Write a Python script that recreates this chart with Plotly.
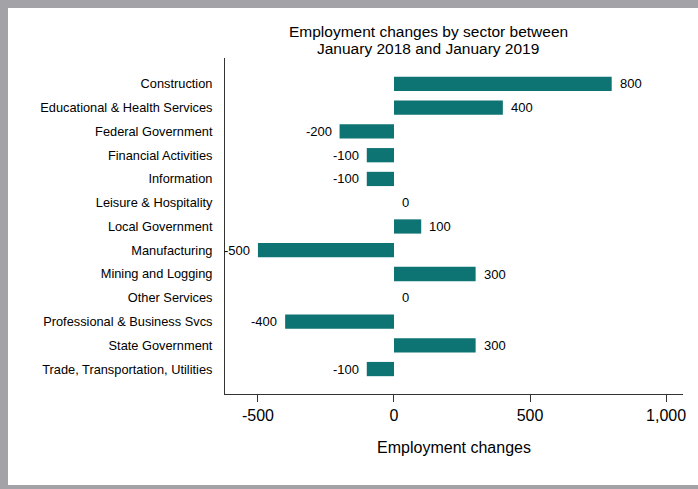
import plotly.graph_objects as go

sectors = [
    "Construction",
    "Educational & Health Services",
    "Federal Government",
    "Financial Activities",
    "Information",
    "Leisure & Hospitality",
    "Local Government",
    "Manufacturing",
    "Mining and Logging",
    "Other Services",
    "Professional & Business Svcs",
    "State Government",
    "Trade, Transportation, Utilities",
]
changes = [800, 400, -200, -100, -100, 0, 100, -500, 300, 0, -400, 300, -100]
x_tick_vals = [-500, 0, 500, 1000]
x_tick_text = ["-500", "0", "500", "1,000"]
title_lines = ["Employment changes by sector between", "January 2018 and January 2019"]

W, H = 698, 489
ML, MR, MT, MB = 225, 15, 58, 95
PW, PH = W - ML - MR, H - MT - MB
FONT = "Liberation Sans, Arial, Helvetica, sans-serif"
BAR = "#0e7373"
BORDER = "#a3a3a7"

fig = go.Figure()
fig.add_trace(go.Bar(
    x=changes, y=sectors, orientation="h",
    marker=dict(color=BAR, line=dict(width=0)),
    width=0.6, hoverinfo="skip",
))

def px_x(p):
    return (p - ML) / PW

def px_y(p):
    return (H - MB - p) / PH

shapes = [
    dict(type="rect", xref="paper", yref="paper", x0=px_x(0), x1=px_x(8), y0=px_y(H), y1=px_y(0),
         fillcolor=BORDER, line=dict(width=0), layer="above"),
    dict(type="rect", xref="paper", yref="paper", x0=px_x(0), x1=px_x(W), y0=px_y(8), y1=px_y(0),
         fillcolor=BORDER, line=dict(width=0), layer="above"),
    dict(type="rect", xref="paper", yref="paper", x0=px_x(0), x1=px_x(W), y0=px_y(H), y1=px_y(485),
         fillcolor=BORDER, line=dict(width=0), layer="above"),
]

annotations = [
    dict(text=title_lines[0], xref="paper", yref="paper", x=px_x(428), y=px_y(31),
         xanchor="center", yanchor="middle", showarrow=False,
         font=dict(size=15.5, family=FONT, color="black")),
    dict(text=title_lines[1], xref="paper", yref="paper", x=px_x(428), y=px_y(48),
         xanchor="center", yanchor="middle", showarrow=False,
         font=dict(size=15.5, family=FONT, color="black")),
]
for s, v in zip(sectors, changes):
    annotations.append(dict(
        text=f"{v:,}", x=v, y=s, xref="x", yref="y",
        xanchor="left" if v >= 0 else "right", yanchor="middle",
        xshift=6 if v >= 0 else -6, yshift=0,
        showarrow=False, font=dict(size=13, family=FONT, color="black"),
    ))

fig.update_layout(
    width=W, height=H,
    margin=dict(l=ML, r=MR, t=MT, b=MB),
    paper_bgcolor="white", plot_bgcolor="white",
    showlegend=False,
    font=dict(family=FONT, color="black"),
    xaxis=dict(
        range=[-621, 1062], tickvals=x_tick_vals, ticktext=x_tick_text,
        ticks="outside", ticklen=7, tickcolor="#333", tickwidth=1,
        showline=True, linecolor="#333", linewidth=1,
        showgrid=False, zeroline=False,
        tickfont=dict(size=16, family=FONT),
        title=dict(text="Employment changes", font=dict(size=16, family=FONT), standoff=18),
    ),
    yaxis=dict(
        type="category", categoryorder="array", categoryarray=sectors,
        range=[12 + 1.05, -1.09],
        showline=True, linecolor="#333", linewidth=1,
        showgrid=False, zeroline=False, ticks="",
        ticklabelstandoff=9,
        tickfont=dict(size=12.8, family=FONT),
    ),
    shapes=shapes,
    annotations=annotations,
)

fig.write_html("out.html")
